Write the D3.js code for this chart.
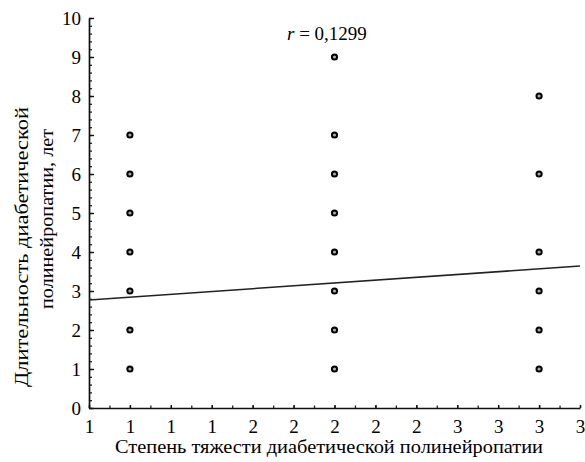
<!DOCTYPE html>
<html>
<head>
<meta charset="utf-8">
<script src="https://cdn.jsdelivr.net/npm/d3@7"></script>
<style>
  body { margin: 0; background: #fff; }
  text { font-family: "Liberation Serif", "Times New Roman", serif; fill: #000; }
</style>
</head>
<body>
<svg id="chart" width="585" height="462"></svg>
<script>
// values
const grade1 = [1, 2, 3, 4, 5, 6, 7];
const grade2 = [1, 2, 3, 4, 5, 6, 7, 9];
const grade3 = [1, 2, 3, 4, 6, 8];
const fitX = [0.8, 3.2];
const fitY = [2.77, 3.64];
const xTickValues = [0.8, 1.0, 1.2, 1.4, 1.6, 1.8, 2.0, 2.2, 2.4, 2.6, 2.8, 3.0, 3.2];
const xTickLabels = ["1", "1", "1", "1", "2", "2", "2", "2", "2", "3", "3", "3", "3"];
const yTickValues = [0, 1, 2, 3, 4, 5, 6, 7, 8, 9, 10];
const rText = "0,1299";

const width = 585, height = 462;
const margin = {top: 18, right: 5, bottom: 54, left: 89};

const svg = d3.select("#chart");

const x = d3.scaleLinear().domain([0.8, 3.2]).range([margin.left, width - margin.right]);
const y = d3.scaleLinear().domain([0, 10]).range([height - margin.bottom, margin.top]);

// points: one list per grade
const points = [];
[grade1, grade2, grade3].forEach((list, i) => {
  list.forEach(v => points.push({g: i + 1, v: v}));
});

// minor ticks first, drawn inward
const xMinor = d3.range(0.8, 3.2001, 0.1);
const yMinor = d3.range(0, 10.001, 0.2);

svg.append("g")
  .attr("transform", `translate(0,${y(0)})`)
  .call(d3.axisBottom(x).tickValues(xMinor).tickSizeInner(-2.5).tickSizeOuter(0).tickFormat(""))
  .call(g => g.select(".domain").remove())
  .call(g => g.selectAll("line").attr("stroke", "#222").attr("stroke-width", 1.3));

svg.append("g")
  .attr("transform", `translate(${x(0.8)},0)`)
  .call(d3.axisLeft(y).tickValues(yMinor).tickSizeInner(-3).tickSizeOuter(0).tickFormat(""))
  .call(g => g.select(".domain").remove())
  .call(g => g.selectAll("line").attr("stroke", "#222").attr("stroke-width", 1.3));

// main axes
const xAxis = svg.append("g")
  .attr("transform", `translate(0,${y(0)})`)
  .call(d3.axisBottom(x)
    .tickValues(xTickValues)
    .tickFormat((d, i) => xTickLabels[i])
    .tickSizeInner(-3)
    .tickSizeOuter(0)
    .tickPadding(12));

const yAxis = svg.append("g")
  .attr("transform", `translate(${x(0.8)},0)`)
  .call(d3.axisLeft(y)
    .tickValues(yTickValues)
    .tickSizeInner(-5)
    .tickSizeOuter(0)
    .tickPadding(8));

[xAxis, yAxis].forEach(g => {
  g.attr("font-family", "Liberation Serif, serif");
  g.select(".domain").attr("stroke", "#111").attr("stroke-width", 1.7);
  g.selectAll(".tick line").attr("stroke", "#111").attr("stroke-width", 1.4);
  g.selectAll(".tick text")
    .attr("font-size", 19)
    .attr("fill", "#000");
});

// regression line
const fit = fitX.map((d, i) => [d, fitY[i]]);
svg.append("path")
  .datum(fit)
  .attr("fill", "none")
  .attr("stroke", "#222")
  .attr("stroke-width", 1.6)
  .attr("d", d3.line().x(d => x(d[0])).y(d => y(d[1])));

// data points
svg.append("g")
  .selectAll("circle")
  .data(points)
  .join("circle")
  .attr("cx", d => x(d.g))
  .attr("cy", d => y(d.v))
  .attr("r", 2.6)
  .attr("fill", "#aaa")
  .attr("stroke", "#000")
  .attr("stroke-width", 2);

// correlation label
const rLabel = svg.append("text")
  .attr("x", 287)
  .attr("y", 40)
  .attr("font-size", 19);
rLabel.append("tspan").attr("font-style", "italic").text("r");
rLabel.append("tspan").text(" =  " + rText);

// axis titles
svg.append("text")
  .attr("x", 329)
  .attr("y", 453)
  .attr("text-anchor", "middle")
  .attr("font-size", 19)
  .attr("textLength", 428)
  .attr("lengthAdjust", "spacingAndGlyphs")
  .text("Степень тяжести диабетической полинейропатии");

svg.append("text")
  .attr("transform", "translate(28,247) rotate(-90)")
  .attr("text-anchor", "middle")
  .attr("font-size", 19)
  .attr("textLength", 280)
  .attr("lengthAdjust", "spacingAndGlyphs")
  .text("Длительность диабетической");

svg.append("text")
  .attr("transform", "translate(53,219) rotate(-90)")
  .attr("text-anchor", "middle")
  .attr("font-size", 19)
  .attr("textLength", 180)
  .attr("lengthAdjust", "spacingAndGlyphs")
  .text("полинейропатии, лет");
</script>
</body>
</html>
